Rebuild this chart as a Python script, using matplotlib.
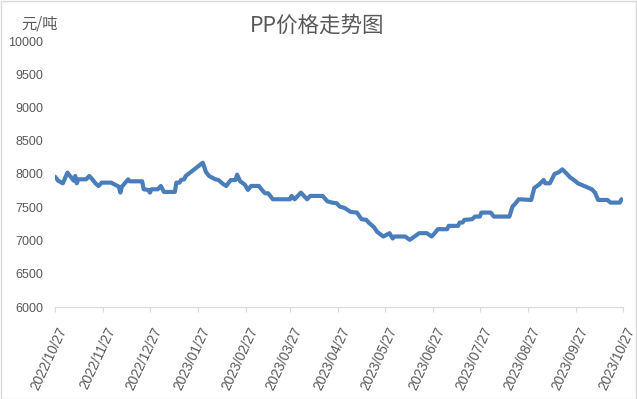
import matplotlib
matplotlib.use("Agg")
import matplotlib.pyplot as plt
from matplotlib.transforms import ScaledTranslation
from matplotlib.patches import Rectangle
import pandas as pd

dates = ["2022-10-27","2022-10-29","2022-11-01","2022-11-04","2022-11-06","2022-11-08","2022-11-09","2022-11-10","2022-11-11","2022-11-16",
         "2022-11-18","2022-11-20","2022-11-22","2022-11-24","2022-11-26","2022-12-02","2022-12-07","2022-12-08","2022-12-09","2022-12-13",
         "2022-12-14","2022-12-22","2022-12-23","2022-12-26","2022-12-27","2022-12-28","2023-01-01","2023-01-03","2023-01-05","2023-01-12",
         "2023-01-13","2023-01-15","2023-01-16","2023-01-18","2023-01-19","2023-01-30","2023-02-01","2023-02-03","2023-02-07","2023-02-09",
         "2023-02-12","2023-02-14","2023-02-17","2023-02-20","2023-02-21","2023-02-23","2023-02-26","2023-02-28","2023-03-02","2023-03-07",
         "2023-03-09","2023-03-11","2023-03-13","2023-03-16","2023-03-27","2023-03-28","2023-03-30","2023-04-01","2023-04-03","2023-04-07",
         "2023-04-09","2023-04-17","2023-04-20","2023-04-23","2023-04-26","2023-04-28","2023-05-01","2023-05-05","2023-05-09","2023-05-12",
         "2023-05-15","2023-05-17","2023-05-20","2023-05-22","2023-05-26","2023-05-30","2023-06-01","2023-06-02","2023-06-09","2023-06-12",
         "2023-06-15","2023-06-18","2023-06-23","2023-06-26","2023-06-28","2023-06-30","2023-07-06","2023-07-07","2023-07-13","2023-07-14",
         "2023-07-16","2023-07-17","2023-07-22","2023-07-24","2023-07-27","2023-07-28","2023-08-03","2023-08-05","2023-08-15","2023-08-17",
         "2023-08-19","2023-08-21","2023-08-29","2023-08-31","2023-09-03","2023-09-06","2023-09-07","2023-09-10","2023-09-13","2023-09-16",
         "2023-09-18","2023-09-21","2023-09-23","2023-09-26","2023-09-28","2023-10-07","2023-10-09","2023-10-11","2023-10-17","2023-10-19",
         "2023-10-25","2023-10-26"]

prices = [7960,7900,7860,8020,7960,7900,7970,7860,7920,7920,
          7970,7920,7860,7820,7870,7870,7810,7720,7810,7920,
          7890,7890,7770,7760,7720,7770,7770,7820,7730,7730,
          7870,7870,7910,7920,7970,8170,8030,7970,7920,7910,
          7850,7820,7910,7910,7990,7890,7840,7760,7820,7820,
          7760,7710,7710,7620,7620,7670,7620,7670,7720,7620,
          7670,7670,7590,7570,7560,7510,7490,7430,7420,7320,
          7310,7260,7200,7130,7060,7110,7030,7060,7060,7010,
          7060,7110,7110,7060,7110,7170,7170,7220,7220,7270,
          7270,7310,7320,7360,7360,7420,7420,7360,7360,7510,
          7560,7620,7610,7790,7840,7910,7860,7860,8000,8030,
          8070,8000,7950,7900,7860,7770,7720,7610,7610,7570,
          7570,7620]

tick_dates = ["2022-10-27","2022-11-27","2022-12-27","2023-01-27","2023-02-27","2023-03-27","2023-04-27",
              "2023-05-27","2023-06-27","2023-07-27","2023-08-27","2023-09-27","2023-10-27"]
tick_labels = ["2022/10/27","2022/11/27","2022/12/27","2023/01/27","2023/02/27","2023/03/27","2023/04/27",
               "2023/05/27","2023/06/27","2023/07/27","2023/08/27","2023/09/27","2023/10/27"]
y_ticks = [6000, 6500, 7000, 7500, 8000, 8500, 9000, 9500, 10000]

title = "PP价格走势图"
unit = "元/吨"

plt.rcParams['font.family'] = ['Noto Sans CJK SC', 'DejaVu Sans']
gray = '#595959'
axis_gray = '#d9d9d9'

fig = plt.figure(figsize=(6.37, 3.99), dpi=100)
ax = fig.add_axes([55/637, 1-307/399, (623-55)/637, (307-41)/399])

x = pd.to_datetime(dates)
ax.plot(x, prices, color='#4a7ebb', lw=3.0, solid_joinstyle='round', solid_capstyle='round')

ax.set_xlim(pd.Timestamp("2022-10-27"), pd.Timestamp("2023-10-27"))
ax.set_ylim(6000, 10000)
ax.set_yticks(y_ticks)
ax.set_yticklabels([str(v) for v in y_ticks], fontfamily='Liberation Sans', fontsize=9, color=gray)
ax.tick_params(axis='y', length=0, pad=8.5)

ax.set_xticks(pd.to_datetime(tick_dates))
ax.set_xticklabels(tick_labels, fontfamily='Liberation Sans', fontsize=9.8, color=gray,
                   rotation=65, ha='right', va='center', rotation_mode='anchor')
ax.tick_params(axis='x', length=3.5, width=0.8, color=axis_gray, direction='out', pad=11.5)
offset = ScaledTranslation(6/72, 0, fig.dpi_scale_trans)
for lab in ax.get_xticklabels():
    lab.set_transform(lab.get_transform() + offset)

for s in ['top', 'right', 'left']:
    ax.spines[s].set_visible(False)
ax.spines['bottom'].set_color(axis_gray)
ax.spines['bottom'].set_linewidth(0.8)

fig.text(317.5/637, 1-26/399, title, ha='center', va='center', fontsize=15.5, color=gray)
fig.text(40/637, 1-24/399, unit, ha='center', va='center', fontsize=11, color=gray)

fig.patches.append(Rectangle((0.001, 0.001), 0.997, 0.997, transform=fig.transFigure,
                             fill=False, ec=axis_gray, lw=1))

fig.savefig("out.png", dpi=100)
